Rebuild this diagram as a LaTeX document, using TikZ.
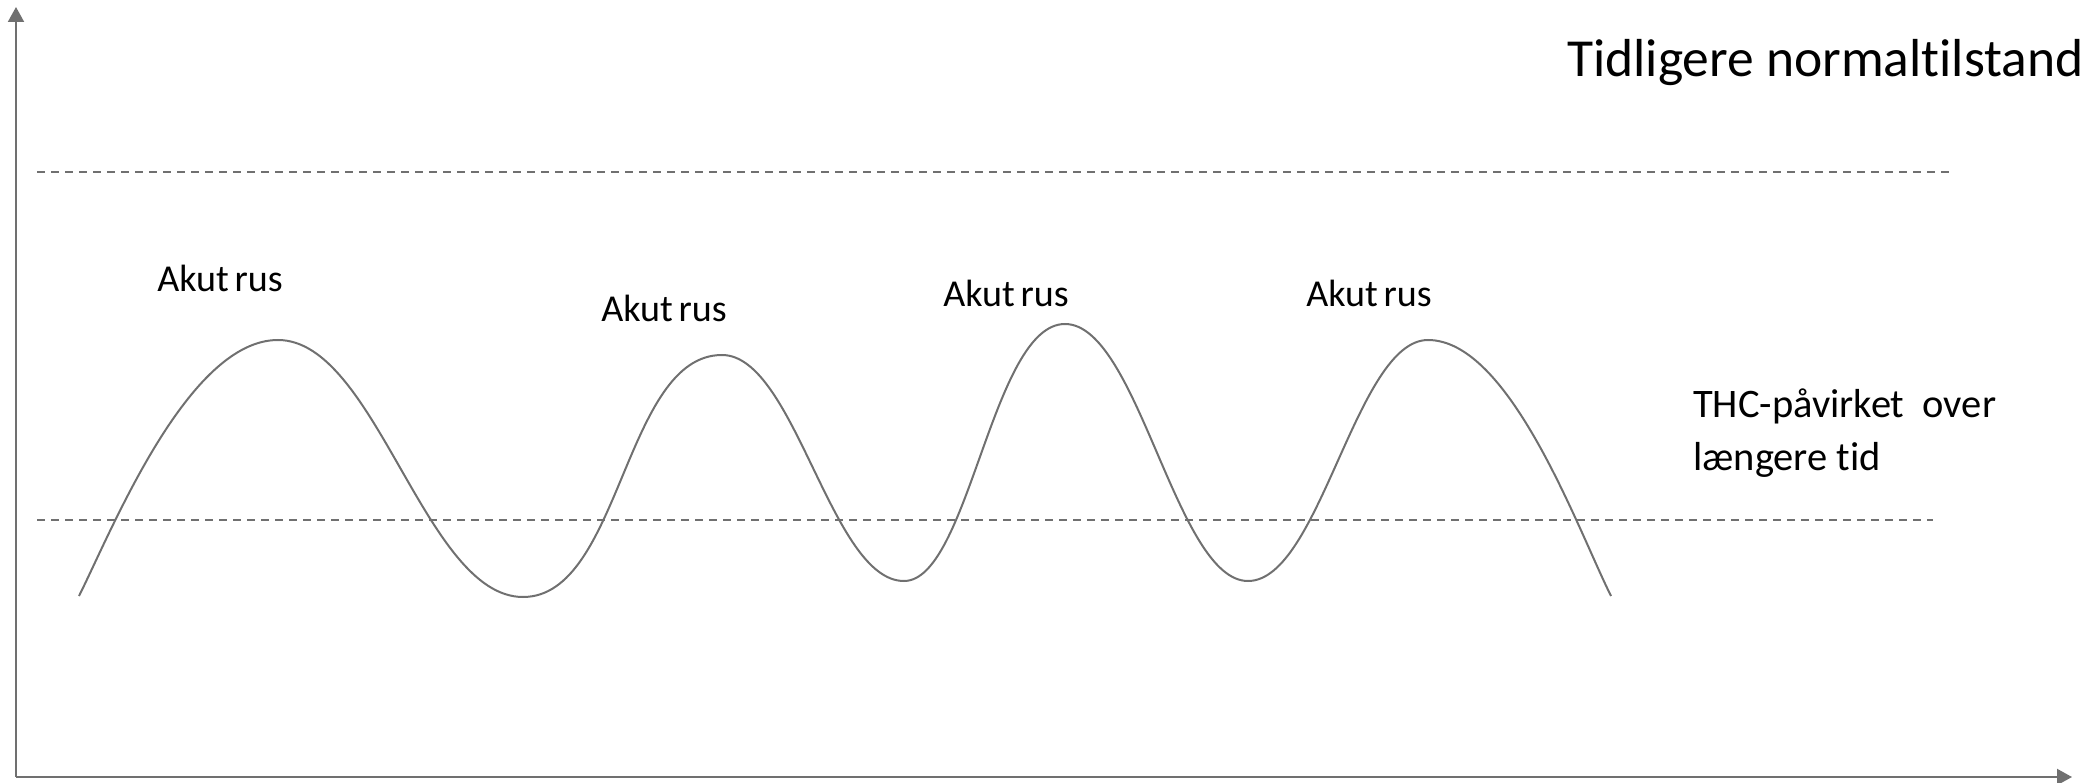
\documentclass[tikz,border=0pt]{standalone}
\usepackage{fontspec}
\setmainfont{Carlito}[Ligatures=NoCommon]
\usetikzlibrary{arrows.meta}
\definecolor{linegray}{RGB}{112,112,112}
\tikzset{
  axis/.style={draw=linegray, line width=2pt, -{Triangle[length=15pt,width=16pt]}},
  levelline/.style={draw=linegray, line width=2pt, dash pattern=on 8pt off 6pt},
  wave/.style={draw=linegray, line width=2pt},
  peaklabel/.style={anchor=base, inner sep=0pt, font=\fontsize{38}{45}\selectfont},
  sidelabel/.style={anchor=base west, inner sep=0pt, align=left},
}
\newcommand{\rustext}{Akut\hspace{0.15em}rus}
\begin{document}
\begin{tikzpicture}[x=1pt, y=-1pt]
\useasboundingbox (0,0) rectangle (2093,783);

% axes
\coordinate (origin) at (16,777);
\coordinate (ytip) at (16,7);
\coordinate (xtip) at (2072,777);
\draw[axis] (origin) -- (ytip);
\draw[axis] (origin) -- (xtip);

% reference levels
\coordinate (upA) at (37,172);
\coordinate (upB) at (1949,172);
\coordinate (lowA) at (37,520);
\coordinate (lowB) at (1933,520);
\draw[levelline] (upA) -- (upB);
\draw[levelline] (lowA) -- (lowB);

% oscillating curve
\coordinate (w0) at (79,596);
\coordinate (p1) at (278,340);
\coordinate (t1) at (523,597);
\coordinate (p2) at (722,355);
\coordinate (t2) at (904,581);
\coordinate (p3) at (1065,324);
\coordinate (t3) at (1248,581);
\coordinate (p4) at (1428,340);
\coordinate (w1) at (1611,596);
\draw[wave] (w0)
  .. controls (112,530) and (188,340) .. (p1)
  .. controls (376,340) and (425,597) .. (t1)
  .. controls (621,597) and (624,355) .. (p2)
  .. controls (795,355) and (831,581) .. (t2)
  .. controls (969,581) and (992,324) .. (p3)
  .. controls (1138,324) and (1176,581) .. (t3)
  .. controls (1320,581) and (1356,340) .. (p4)
  .. controls (1510,340) and (1578,530) .. (w1);

% labels
\node[peaklabel] (rus1) at (220,292) {\rustext};
\node[peaklabel] (rus2) at (664,322) {\rustext};
\node[peaklabel] (rus3) at (1006,307) {\rustext};
\node[peaklabel] (rus4) at (1369,307) {\rustext};
\node[sidelabel, font=\fontsize{53.5}{63}\selectfont] (normal) at (1567,77) {Tidligere normaltilstand};
\node[sidelabel, font=\fontsize{40.5}{53}\selectfont] (thc) at (1693,470) {THC-påvirket~ over\\længere tid};
\end{tikzpicture}
\end{document}
